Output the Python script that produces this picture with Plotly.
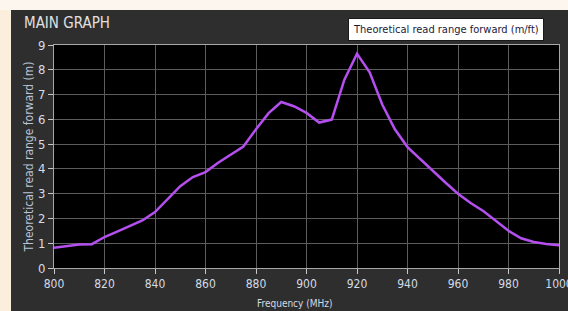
import plotly.graph_objects as go

freq = [800, 805, 810, 815, 820, 825, 830, 835, 840, 845, 850, 855, 860, 865, 870,
        875, 880, 885, 890, 895, 900, 905, 910, 915, 920, 925, 930, 935, 940, 945,
        950, 955, 960, 965, 970, 975, 980, 985, 990, 995, 1000]
read_range = [0.82, 0.88, 0.95, 0.96, 1.25, 1.47, 1.68, 1.92, 2.26, 2.8, 3.3, 3.67, 3.87, 4.25, 4.57,
              4.9, 5.6, 6.25, 6.7, 6.53, 6.26, 5.87, 5.99, 7.6, 8.65, 7.9, 6.6, 5.6, 4.88, 4.4,
              3.9, 3.45, 3.0, 2.62, 2.3, 1.9, 1.5, 1.2, 1.05, 0.97, 0.92]
x_ticks = [800, 820, 840, 860, 880, 900, 920, 940, 960, 980, 1000]
y_ticks = [0, 1, 2, 3, 4, 5, 6, 7, 8, 9]

FONT = "DejaVu Sans Condensed"
TICKC = "#d4dbe6"
L, R, T, B = 54, 9, 45, 43
W, H = 568, 311
PW, PH = W - L - R, H - T - B


def px(x):
    return (x - L) / PW


def py(y):
    return 1 + (T - y) / PH


fig = go.Figure()
fig.add_trace(go.Scatter(x=freq, y=read_range, mode="lines",
                         line=dict(color="#b64ff0", width=2.5),
                         name="Theoretical read range forward (m/ft)",
                         showlegend=False, hoverinfo="skip"))

fig.update_layout(
    width=W, height=H,
    margin=dict(l=L, r=R, t=T, b=B, autoexpand=False),
    paper_bgcolor="#2e2e2e",
    plot_bgcolor="#000000",
    font=dict(family=FONT, color=TICKC, size=12),
    shapes=[
        dict(type="rect", xref="paper", yref="paper", layer="below",
             x0=px(0), x1=px(11), y0=py(H), y1=py(0),
             fillcolor="#fbeedd", line=dict(width=0)),
        dict(type="rect", xref="paper", yref="paper", layer="below",
             x0=px(0), x1=px(W), y0=py(10), y1=py(0),
             fillcolor="#fdf6ee", line=dict(width=0)),
    ],
    annotations=[
        dict(text="MAIN GRAPH", xref="paper", yref="paper", x=px(22), y=py(23),
             xanchor="left", yanchor="middle", showarrow=False,
             font=dict(family=FONT, size=15, color="#e0e0e0")),
        dict(text="Theoretical read range forward (m/ft)", xref="paper", yref="paper",
             x=px(544), y=py(29), xanchor="right", yanchor="middle",
             showarrow=False, bgcolor="#ffffff", bordercolor="#1a1a1a", borderwidth=1,
             borderpad=4, font=dict(family=FONT, size=11, color="#1a1a3a")),
        dict(text="Frequency (MHz)", xref="paper", yref="paper",
             x=px(295), y=py(303), xanchor="center", yanchor="middle",
             showarrow=False, font=dict(family=FONT, size=10, color=TICKC)),
    ],
    xaxis=dict(range=[800, 1000], tickvals=x_ticks, ticks="outside", ticklen=5,
               tickcolor="#c8c8c8", showgrid=True, gridcolor="#5c5c5c", gridwidth=1,
               showline=True, linecolor="#a8a8a8", linewidth=1, mirror=True,
               zeroline=False, automargin=False, ticklabeloverflow="allow",
               tickfont=dict(size=12, color=TICKC)),
    yaxis=dict(range=[0, 9], tickvals=y_ticks, ticks="outside", ticklen=5,
               tickcolor="#c8c8c8", showgrid=True, gridcolor="#5c5c5c", gridwidth=1,
               showline=True, linecolor="#a8a8a8", linewidth=1, mirror=True,
               zeroline=False, automargin=False,
               tickfont=dict(size=13, color=TICKC),
               title=dict(text="Theoretical read range forward (m)", font=dict(size=12, color="#b8c4d8"), standoff=1)),
)

fig.write_html("out.html", config={"displayModeBar": False},
               post_script="document.body.style.margin='0px';document.body.style.overflow='hidden';")
